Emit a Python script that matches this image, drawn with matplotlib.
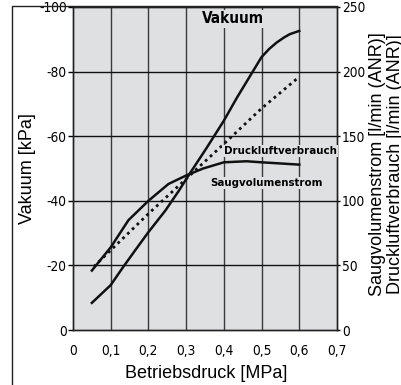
import matplotlib
matplotlib.use('Agg')
import matplotlib.pyplot as plt
from matplotlib import font_manager
from matplotlib.font_manager import FontProperties
from matplotlib.lines import Line2D

# Werte
vak_druck = [0.05, 0.1, 0.13, 0.165, 0.2, 0.245, 0.28, 0.31, 0.355, 0.4, 0.435, 0.475, 0.5, 0.52, 0.54, 0.56, 0.575, 0.6]
vakuum = [-8.4, -13.9, -19, -24.7, -30.3, -37, -43, -48.5, -56.5, -64.8, -72, -79.7, -84.5, -87, -89, -90.6, -91.6, -92.6]
saug_druck = [0.05, 0.1, 0.147, 0.2, 0.253, 0.3, 0.345, 0.4, 0.46, 0.5, 0.6]
saugvolumen = [46, 64, 85, 100, 113, 119.6, 125, 129.8, 130.6, 129.8, 128]
luft_druck = [0.055, 0.2, 0.3, 0.4, 0.5, 0.6]
luftverbrauch = [49, 90, 117, 144, 171.5, 196]

x_ticks = [0, 0.1, 0.2, 0.3, 0.4, 0.5, 0.6, 0.7]
x_labels = ['0', '0,1', '0,2', '0,3', '0,4', '0,5', '0,6', '0,7']
y_ticks = [0, -20, -40, -60, -80, -100]
y2_ticks = [0, 50, 100, 150, 200, 250]

plt.rcParams['font.family'] = ['Liberation Sans', 'DejaVu Sans']

# schmale Schrift suchen, falls vorhanden
def find_font(patterns, size, fallback_size, weight='normal'):
    files = font_manager.findSystemFonts()
    for p in patterns:
        for f in files:
            if f.endswith(p):
                return FontProperties(fname=f, size=size)
    return FontProperties(family='Liberation Sans', weight=weight, size=fallback_size)

tick_fp = find_font(['LiberationSansNarrow-Regular.ttf', 'DejaVuSansCondensed.ttf'], 9.8, 9)
bold_fp = find_font(['LiberationSansNarrow-Bold.ttf', 'DejaVuSansCondensed-Bold.ttf'], 8.2, 8.4, 'bold')
title_fp = find_font(['LiberationSansNarrow-Bold.ttf', 'DejaVuSansCondensed-Bold.ttf'], 11, 10, 'bold')

DPI = 100
fig = plt.figure(figsize=(401/DPI, 385/DPI), dpi=DPI)
ax = fig.add_axes([73/401, 1 - 330/385, (337-73)/401, (330-7)/385])
ax.set_facecolor('#dfe0e1')

# Gitter
for xv in x_ticks[1:-1]:
    ax.axvline(xv, color='#3a3a3a', lw=1.0, zorder=1)
for yv in y_ticks[1:-1]:
    ax.axhline(yv, color='#111111', lw=1.0, zorder=1)

ax.plot(vak_druck, vakuum, color='#111111', lw=1.8, zorder=3)

ax2 = ax.twinx()
ax2.plot(saug_druck, saugvolumen, color='#111111', lw=1.8, zorder=3)
ax2.plot(luft_druck, luftverbrauch, color='#111111', lw=2.0, zorder=3,
         linestyle=(0, (1.0, 1.4)))

ax.set_xlim(0, 0.7)
ax.set_ylim(0, -100)
ax2.set_ylim(0, 250)

ax.set_xticks(x_ticks)
ax.set_xticklabels(x_labels, fontproperties=tick_fp)
ax.set_yticks(y_ticks)
ax.set_yticklabels([str(v) for v in y_ticks], fontproperties=tick_fp)
ax2.set_yticks(y2_ticks)
ax2.set_yticklabels([str(v) for v in y2_ticks], fontproperties=tick_fp)
ax.tick_params(axis='x', length=0, pad=10)
ax.tick_params(axis='y', length=3.5, width=1, pad=1)
ax2.tick_params(axis='y', length=2.5, width=1, pad=1)

for a in (ax, ax2):
    for s in a.spines.values():
        s.set_linewidth(1.0)
        s.set_color('#222222')

ax.set_xlabel('Betriebsdruck [MPa]', fontsize=13)
ax.xaxis.set_label_coords(0.504, -0.108)
ax.set_ylabel('Vakuum [kPa]', fontsize=13)
ax.yaxis.set_label_coords(-0.14, 0.5)

box = dict(facecolor='#dfe0e1', edgecolor='none', pad=1.0)
ax.text(0.424, -96.3, 'Vakuum', fontproperties=title_fp,
        ha='center', va='center', bbox=box, zorder=4)
ax2.text(0.549, 138.5, 'Druckluftverbrauch', fontproperties=bold_fp,
         ha='center', va='center', bbox=box, zorder=4)
ax2.text(0.512, 113.8, 'Saugvolumenstrom', fontproperties=bold_fp,
         ha='center', va='center', bbox=box, zorder=4)

# rechte Achsenbeschriftung (zweizeilig, wie im Original am Rand angeschnitten)
fig.text(377/401, 1 - 164/385, 'Saugvolumenstrom [l/min (ANR)]', rotation=90,
         fontsize=13, ha='center', va='center')
fig.text(395/401, 1 - 164/385, 'Druckluftverbrauch [l/min (ANR)]', rotation=90,
         fontsize=13, ha='center', va='center')

# Rahmen oben und links
fig.add_artist(Line2D([12/401, 12/401, 337/401], [0, 1 - 6/385, 1 - 6/385],
                      color='#222222', lw=1.0))

fig.savefig('out.png', dpi=DPI)
